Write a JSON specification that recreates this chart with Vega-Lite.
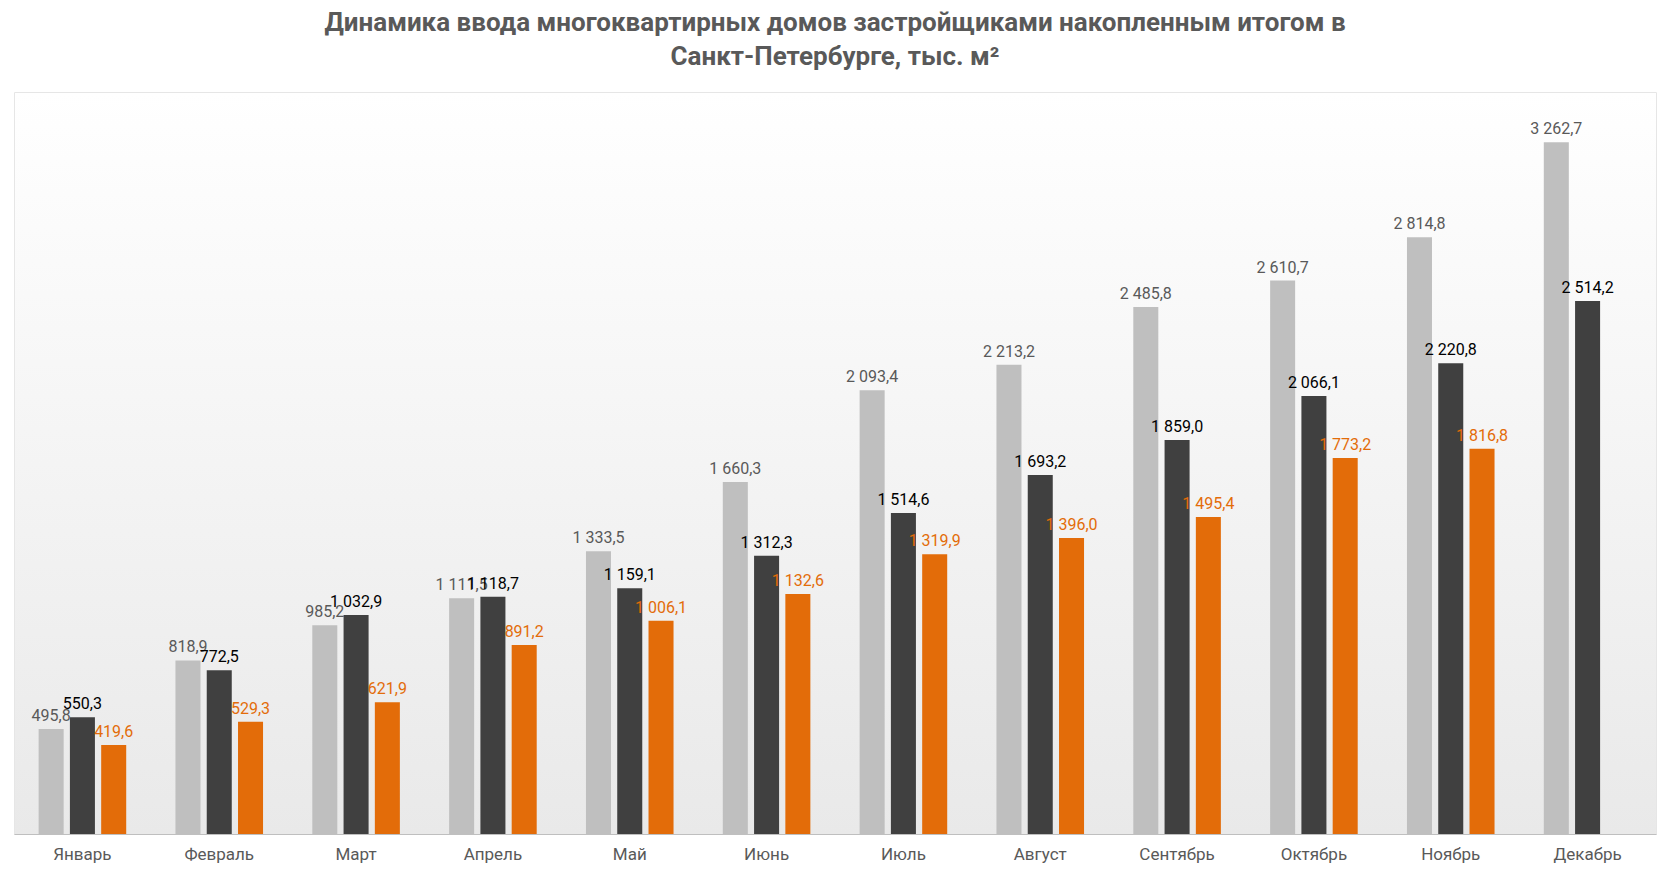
{
  "$schema": "https://vega.github.io/schema/vega-lite/v6.json",
  "width": 1666,
  "height": 872,
  "autosize": {"type": "fit", "contains": "padding"},
  "background": "#ffffff",
  "padding": {"left": 14, "right": 10, "top": 10, "bottom": 10},
  "title": {
    "text": ["Динамика ввода многоквартирных домов застройщиками накопленным итогом в", "Санкт-Петербурге, тыс. м²"],
    "font": "Roboto",
    "fontSize": 26,
    "fontWeight": "bold",
    "color": "#595959",
    "anchor": "middle",
    "lineHeight": 34,
    "offset": 22
  },
  "data": {
    "values": [
      {"month": "Январь", "year": "2023", "value": 495.8},
      {"month": "Январь", "year": "2024", "value": 550.3},
      {"month": "Январь", "year": "2025", "value": 419.6},
      {"month": "Февраль", "year": "2023", "value": 818.9},
      {"month": "Февраль", "year": "2024", "value": 772.5},
      {"month": "Февраль", "year": "2025", "value": 529.3},
      {"month": "Март", "year": "2023", "value": 985.2},
      {"month": "Март", "year": "2024", "value": 1032.9},
      {"month": "Март", "year": "2025", "value": 621.9},
      {"month": "Апрель", "year": "2023", "value": 1111.5},
      {"month": "Апрель", "year": "2024", "value": 1118.7},
      {"month": "Апрель", "year": "2025", "value": 891.2},
      {"month": "Май", "year": "2023", "value": 1333.5},
      {"month": "Май", "year": "2024", "value": 1159.1},
      {"month": "Май", "year": "2025", "value": 1006.1},
      {"month": "Июнь", "year": "2023", "value": 1660.3},
      {"month": "Июнь", "year": "2024", "value": 1312.3},
      {"month": "Июнь", "year": "2025", "value": 1132.6},
      {"month": "Июль", "year": "2023", "value": 2093.4},
      {"month": "Июль", "year": "2024", "value": 1514.6},
      {"month": "Июль", "year": "2025", "value": 1319.9},
      {"month": "Август", "year": "2023", "value": 2213.2},
      {"month": "Август", "year": "2024", "value": 1693.2},
      {"month": "Август", "year": "2025", "value": 1396.0},
      {"month": "Сентябрь", "year": "2023", "value": 2485.8},
      {"month": "Сентябрь", "year": "2024", "value": 1859.0},
      {"month": "Сентябрь", "year": "2025", "value": 1495.4},
      {"month": "Октябрь", "year": "2023", "value": 2610.7},
      {"month": "Октябрь", "year": "2024", "value": 2066.1},
      {"month": "Октябрь", "year": "2025", "value": 1773.2},
      {"month": "Ноябрь", "year": "2023", "value": 2814.8},
      {"month": "Ноябрь", "year": "2024", "value": 2220.8},
      {"month": "Ноябрь", "year": "2025", "value": 1816.8},
      {"month": "Декабрь", "year": "2023", "value": 3262.7},
      {"month": "Декабрь", "year": "2024", "value": 2514.2}
    ]
  },
  "encoding": {
    "x": {
      "field": "month",
      "type": "nominal",
      "sort": null,
      "scale": {"paddingInner": 0.36, "paddingOuter": 0.18},
      "axis": {
        "title": null,
        "labelAngle": 0,
        "labelFont": "Roboto",
        "labelFontSize": 17,
        "labelColor": "#595959",
        "labelPadding": 12,
        "domainColor": "#bfbfbf",
        "ticks": false
      }
    },
    "xOffset": {"field": "year", "type": "nominal", "scale": {"domain": ["2023", "2024", "2025"], "paddingInner": 0.2}},
    "y": {
      "field": "value",
      "type": "quantitative",
      "scale": {"domain": [0, 3500]},
      "axis": null
    }
  },
  "layer": [
    {
      "mark": {"type": "bar"},
      "encoding": {
        "color": {
          "field": "year",
          "type": "nominal",
          "scale": {"domain": ["2023", "2024", "2025"], "range": ["#bfbfbf", "#404040", "#e36c09"]},
          "legend": {
            "title": null,
            "orient": "none",
            "legendX": {"expr": "width + 22"},
            "legendY": {"expr": "height / 2 - 60"},
            "symbolType": "square",
            "symbolSize": 130,
            "labelFont": "Roboto",
            "labelFontSize": 17,
            "labelColor": "#595959",
            "rowPadding": 10
          }
        }
      }
    },
    {
      "mark": {"type": "text", "baseline": "bottom", "dy": -5, "font": "Roboto", "fontSize": 16},
      "encoding": {
        "text": {"field": "value", "type": "quantitative", "format": ",.1f"},
        "color": {
          "field": "year",
          "type": "nominal",
          "scale": {"domain": ["2023", "2024", "2025"], "range": ["#595959", "#000000", "#e36c09"]},
          "legend": null
        }
      }
    },
    {
      "data": {"values": [{"label": "© erzrf.ru"}]},
      "mark": {"type": "text", "angle": 270, "align": "left", "baseline": "middle", "dx": 8, "dy": 40, "font": "Roboto", "fontSize": 20, "color": "#000000"},
      "encoding": {
        "x": {"datum": "Декабрь", "type": "nominal"},
        "xOffset": {"datum": "2025"},
        "y": {"datum": 0, "type": "quantitative"},
        "text": {"field": "label"}
      }
    }
  ],
  "resolve": {"scale": {"color": "independent"}},
  "config": {
    "view": {"stroke": "#e6e6e6", "fill": {"gradient": "linear", "x1": 0, "y1": 0, "x2": 0, "y2": 1, "stops": [{"offset": 0, "color": "#ffffff"}, {"offset": 1, "color": "#e9e9e9"}]}},
    "locale": {"number": {"decimal": ",", "thousands": " ", "grouping": [3], "currency": ["", ""]}}
  }
}
